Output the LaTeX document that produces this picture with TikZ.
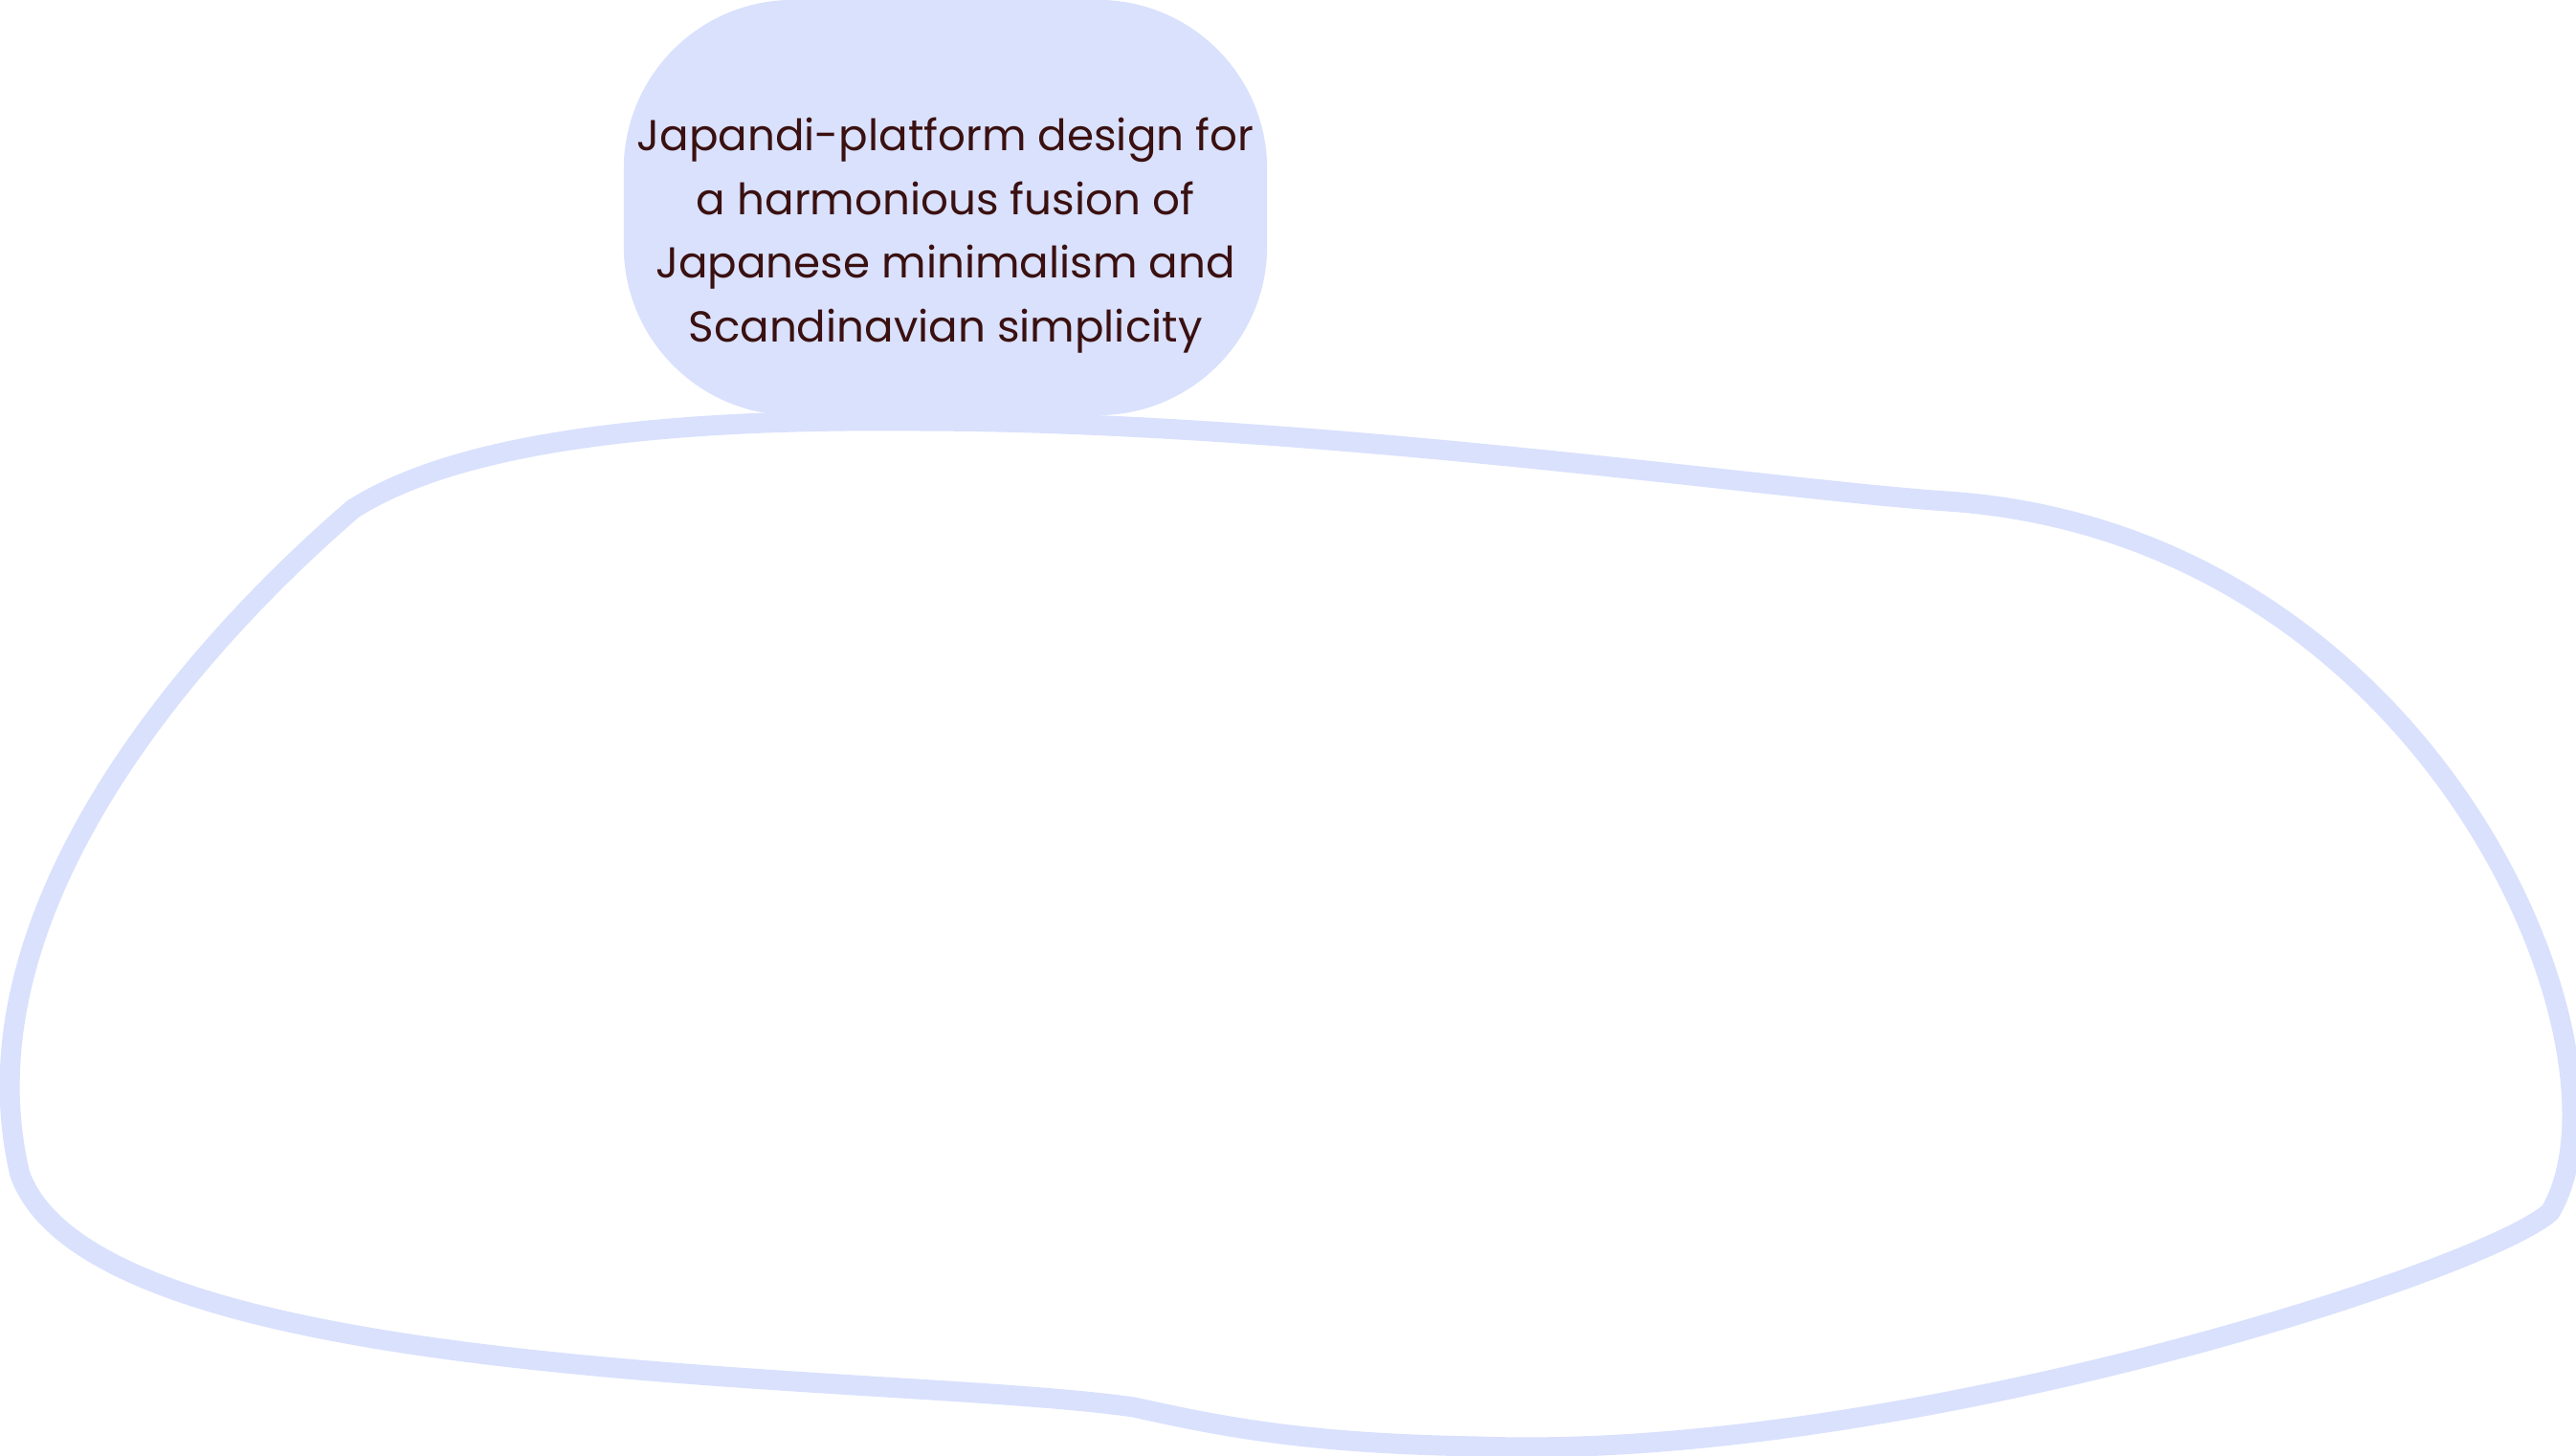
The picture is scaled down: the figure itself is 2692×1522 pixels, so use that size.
\documentclass[tikz,border=0pt]{standalone}
\usepackage{fontspec}
\setmainfont{Poppins}
\definecolor{paleblue}{HTML}{D9E1FD}
\definecolor{darkbrown}{HTML}{3A1010}

\begin{document}
\begin{tikzpicture}[x=0.01cm,y=-0.01cm,
        blob/.style={draw=paleblue,line width=0.21cm,line join=round},
        panel/.style={fill=paleblue,rounded corners=1.77cm,minimum width=6.72cm,minimum height=4.34cm,inner sep=0pt},
        caption/.style={text=darkbrown,align=center,font=\fontsize{12.85}{18.9}\selectfont}]
    \useasboundingbox (0,0) rectangle (2692,1522);
    \node[panel] (panel) at (988,217) {};
    \draw[blob] (369,532) .. controls (498,450) and (755,438) .. (962,440)
        .. controls (1374,441) and (1854,512) .. (2035,524)
        .. controls (2541,558) and (2764,1099) .. (2665,1267)
        .. controls (2593,1331) and (1975,1528) .. (1545,1512)
        .. controls (1374,1509) and (1288,1494) .. (1185,1471)
        .. controls (927,1434) and (103,1451) .. (21,1228)
        .. controls (-43,962) and (189,687) .. cycle;
    \node[caption] (caption) at (988,246) {Japandi-platform design for\\a harmonious fusion of\\Japanese minimalism and\\Scandinavian simplicity};
\end{tikzpicture}
\end{document}
